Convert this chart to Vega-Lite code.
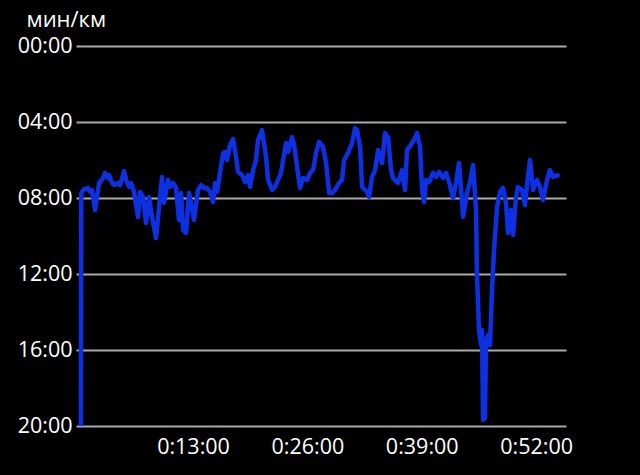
{
  "$schema": "https://vega.github.io/schema/vega-lite/v6.json",
  "width": 490,
  "height": 380,
  "autosize": "none",
  "padding": {"left": 76, "top": 46, "right": 74, "bottom": 49},
  "background": "#000000",
  "config": {
    "view": {"stroke": null},
    "font": "Open Sans"
  },
  "data": {
    "values": [
      {"t": 0.25, "p": 20.0}, {"t": 0.3, "p": 7.74}, {"t": 0.61, "p": 7.53}, {"t": 1.07, "p": 7.47},
      {"t": 1.3, "p": 7.68}, {"t": 1.52, "p": 7.58}, {"t": 1.86, "p": 8.63}, {"t": 2.09, "p": 7.95},
      {"t": 2.32, "p": 7.21}, {"t": 2.77, "p": 6.95}, {"t": 3.0, "p": 6.68}, {"t": 3.34, "p": 6.95},
      {"t": 3.46, "p": 6.79}, {"t": 3.8, "p": 7.21}, {"t": 4.02, "p": 7.32}, {"t": 4.48, "p": 7.21},
      {"t": 4.71, "p": 7.32}, {"t": 5.16, "p": 6.58}, {"t": 5.39, "p": 7.05}, {"t": 5.73, "p": 7.42},
      {"t": 5.96, "p": 7.21}, {"t": 6.3, "p": 7.68}, {"t": 6.75, "p": 9.0}, {"t": 6.98, "p": 7.68},
      {"t": 7.32, "p": 7.95}, {"t": 7.66, "p": 9.32}, {"t": 8.0, "p": 7.95}, {"t": 8.34, "p": 9.0},
      {"t": 8.8, "p": 10.11}, {"t": 9.14, "p": 8.47}, {"t": 9.48, "p": 6.89}, {"t": 9.71, "p": 8.26},
      {"t": 10.16, "p": 7.05}, {"t": 10.39, "p": 7.42}, {"t": 10.73, "p": 7.21}, {"t": 11.07, "p": 7.47},
      {"t": 11.41, "p": 9.16}, {"t": 11.64, "p": 7.74}, {"t": 11.87, "p": 9.68}, {"t": 12.21, "p": 9.84},
      {"t": 12.55, "p": 7.74}, {"t": 12.78, "p": 8.26}, {"t": 13.12, "p": 9.16}, {"t": 13.57, "p": 7.58},
      {"t": 13.91, "p": 7.32}, {"t": 14.25, "p": 7.47}, {"t": 14.59, "p": 7.47}, {"t": 14.94, "p": 7.68},
      {"t": 15.28, "p": 8.21}, {"t": 15.51, "p": 7.21}, {"t": 15.73, "p": 7.68}, {"t": 16.07, "p": 6.68},
      {"t": 16.42, "p": 5.63}, {"t": 16.64, "p": 5.58}, {"t": 16.87, "p": 6.0}, {"t": 17.21, "p": 5.21},
      {"t": 17.55, "p": 4.89}, {"t": 17.89, "p": 5.84}, {"t": 18.12, "p": 6.63}, {"t": 18.58, "p": 6.79},
      {"t": 18.92, "p": 7.16}, {"t": 19.26, "p": 6.79}, {"t": 19.48, "p": 7.42}, {"t": 19.83, "p": 6.53},
      {"t": 20.17, "p": 6.0}, {"t": 20.39, "p": 4.95}, {"t": 20.85, "p": 4.42}, {"t": 20.96, "p": 4.79},
      {"t": 21.3, "p": 5.84}, {"t": 21.53, "p": 7.05}, {"t": 21.99, "p": 7.58}, {"t": 22.33, "p": 7.42},
      {"t": 22.67, "p": 7.05}, {"t": 23.01, "p": 6.68}, {"t": 23.24, "p": 6.0}, {"t": 23.58, "p": 5.11},
      {"t": 23.8, "p": 5.58}, {"t": 24.26, "p": 4.79}, {"t": 24.49, "p": 5.21}, {"t": 24.83, "p": 6.37},
      {"t": 25.17, "p": 7.47}, {"t": 25.51, "p": 6.95}, {"t": 25.97, "p": 7.05}, {"t": 26.31, "p": 6.68},
      {"t": 26.65, "p": 6.53}, {"t": 26.99, "p": 5.63}, {"t": 27.33, "p": 5.05}, {"t": 27.79, "p": 5.32},
      {"t": 28.13, "p": 6.16}, {"t": 28.47, "p": 7.74}, {"t": 28.8, "p": 7.74}, {"t": 29.14, "p": 7.58},
      {"t": 29.6, "p": 7.21}, {"t": 29.94, "p": 7.05}, {"t": 30.17, "p": 6.0}, {"t": 30.62, "p": 5.63},
      {"t": 31.08, "p": 5.11}, {"t": 31.42, "p": 4.32}, {"t": 31.65, "p": 4.42}, {"t": 31.99, "p": 5.32},
      {"t": 32.22, "p": 7.42}, {"t": 32.79, "p": 7.68}, {"t": 33.01, "p": 7.95}, {"t": 33.35, "p": 6.89},
      {"t": 33.7, "p": 6.53}, {"t": 34.04, "p": 5.47}, {"t": 34.49, "p": 6.16}, {"t": 34.83, "p": 4.58},
      {"t": 35.17, "p": 4.79}, {"t": 35.51, "p": 6.53}, {"t": 35.74, "p": 6.95}, {"t": 36.31, "p": 7.21},
      {"t": 36.76, "p": 6.53}, {"t": 37.1, "p": 7.58}, {"t": 37.33, "p": 5.47}, {"t": 37.78, "p": 5.21},
      {"t": 38.24, "p": 4.84}, {"t": 38.47, "p": 4.58}, {"t": 38.81, "p": 5.32}, {"t": 39.04, "p": 7.58},
      {"t": 39.27, "p": 8.21}, {"t": 39.49, "p": 7.05}, {"t": 39.84, "p": 7.16}, {"t": 40.29, "p": 6.68},
      {"t": 40.63, "p": 6.89}, {"t": 40.97, "p": 6.63}, {"t": 41.43, "p": 6.95}, {"t": 41.77, "p": 6.68},
      {"t": 42.11, "p": 7.16}, {"t": 42.56, "p": 8.0}, {"t": 42.9, "p": 7.16}, {"t": 43.24, "p": 6.16},
      {"t": 43.7, "p": 9.0}, {"t": 44.15, "p": 7.74}, {"t": 44.49, "p": 7.16}, {"t": 44.83, "p": 6.26},
      {"t": 45.17, "p": 8.63}, {"t": 45.28, "p": 12.0}, {"t": 45.51, "p": 14.95}, {"t": 45.74, "p": 15.74},
      {"t": 45.85, "p": 14.95}, {"t": 45.97, "p": 19.68}, {"t": 46.19, "p": 19.58}, {"t": 46.31, "p": 15.47},
      {"t": 46.54, "p": 15.21}, {"t": 46.76, "p": 15.74}, {"t": 46.99, "p": 12.84}, {"t": 47.22, "p": 10.74},
      {"t": 47.56, "p": 8.47}, {"t": 47.9, "p": 7.68}, {"t": 48.24, "p": 7.47}, {"t": 48.58, "p": 8.26},
      {"t": 48.81, "p": 9.84}, {"t": 49.15, "p": 8.63}, {"t": 49.38, "p": 9.95}, {"t": 49.72, "p": 7.95},
      {"t": 49.94, "p": 7.42}, {"t": 50.4, "p": 7.58}, {"t": 50.74, "p": 8.37}, {"t": 50.97, "p": 7.32},
      {"t": 51.31, "p": 6.0}, {"t": 51.65, "p": 7.58}, {"t": 52.1, "p": 7.05}, {"t": 52.44, "p": 7.42},
      {"t": 52.78, "p": 8.11}, {"t": 53.24, "p": 7.05}, {"t": 53.58, "p": 6.53}, {"t": 53.92, "p": 6.89},
      {"t": 54.37, "p": 6.79}, {"t": 54.6, "p": 6.89}
    ]
  },
  "mark": {"type": "line", "color": "#0d30e3", "strokeWidth": 4.5, "strokeJoin": "round", "clip": true},
  "encoding": {
    "x": {
      "field": "t",
      "type": "quantitative",
      "scale": {"domain": [-0.3, 55.4], "nice": false, "zero": false},
      "axis": {
        "values": [13, 26, 39, 52],
        "labelExpr": "'0:' + format(datum.value, '02d') + ':00'",
        "title": null,
        "grid": false,
        "ticks": false,
        "domain": false,
        "labelColor": "#ffffff",
        "labelFontSize": 21.5,
        "labelPadding": 10,
        "labelFont": "Open Sans"
      }
    },
    "y": {
      "field": "p",
      "type": "quantitative",
      "scale": {"domain": [0, 20], "reverse": true, "nice": false},
      "axis": {
        "values": [0, 4, 8, 12, 16, 20],
        "labelExpr": "format(datum.value, '02d') + ':00'",
        "grid": true,
        "gridColor": "#aaaaaa",
        "gridWidth": 2,
        "gridOpacity": 1,
        "ticks": false,
        "domain": false,
        "labelColor": "#ffffff",
        "labelFontSize": 21.5,
        "labelPadding": 4,
        "labelFont": "Open Sans",
        "labelBound": false,
        "labelFlush": false,
        "title": "мин/км",
        "titleColor": "#ffffff",
        "titleFont": "Open Sans",
        "titleFontSize": 22,
        "titleFontWeight": "normal",
        "titleAngle": 0,
        "titleAlign": "left",
        "titleBaseline": "alphabetic",
        "titleX": -50,
        "titleY": -20
      }
    }
  }
}
